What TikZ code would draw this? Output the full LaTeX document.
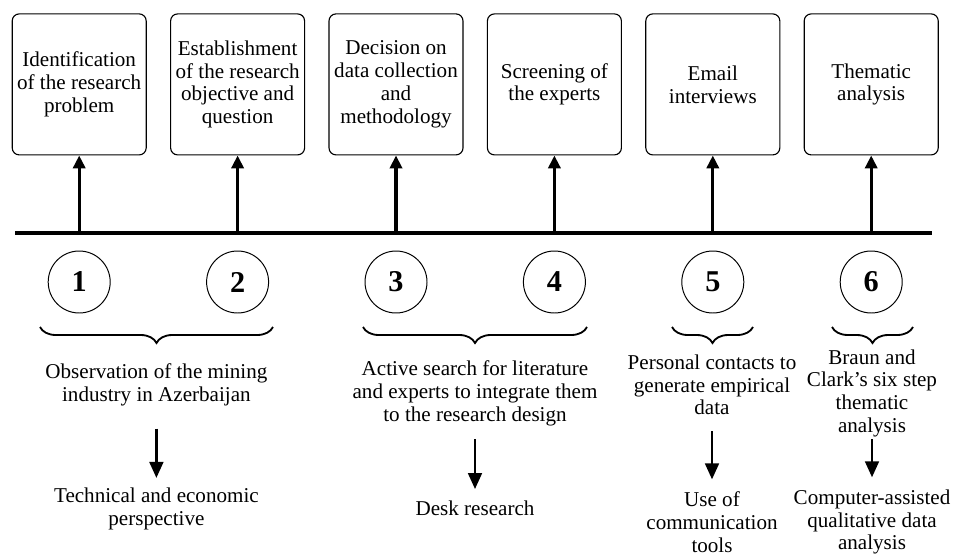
\documentclass[tikz,border=0pt]{standalone}
\usepackage{fontspec}
\setmainfont{Liberation Serif}
\usetikzlibrary{positioning,arrows.meta,decorations.pathreplacing}

\begin{document}
\begin{tikzpicture}[
    stepbox/.style={rectangle, rounded corners=5pt, draw, line width=0.8pt, minimum width=3.35cm, minimum height=3.525cm, align=center, font=\fontsize{15}{16.2}\selectfont},
    phase/.style={circle, draw, line width=0.7pt, minimum size=1.55cm, inner sep=0pt, font=\fontsize{21.5}{24}\selectfont\bfseries},
    upflow/.style={-{Triangle[length=0.32cm,width=0.3cm]}, line width=2.4pt},
    downflow/.style={-{Triangle[length=0.4cm,width=0.34cm]}, line width=2pt},
    group/.style={decorate, decoration={brace, mirror, amplitude=0.4cm}, line width=1.3pt},
    note/.style={align=center, inner sep=0pt, font=\fontsize{15}{16.2}\selectfont}
]
\useasboundingbox (0,0) rectangle (24.025,13.9);

% Research steps
\node[stepbox] (ident) at (1.98, 11.79) {Identification\\of the research\\problem};
\node[stepbox] (objective) at (5.94, 11.79) {Establishment\\of the research\\objective and\\question};
\node[stepbox] (method) at (9.90, 11.79) {Decision on\\data collection\\and\\methodology};
\node[stepbox] (screen) at (13.86, 11.79) {Screening of\\the experts};
\node[stepbox] (email) at (17.82, 11.79) {Email\\interviews};
\node[stepbox] (thematic) at (21.78, 11.79) {Thematic\\analysis};

% Timeline
\coordinate (lineL) at (0.375, 8.075);
\coordinate (lineR) at (23.3, 8.075);
\draw[line width=3.2pt] (lineL) -- (lineR);

\draw[upflow] (ident |- lineL) -- (ident);
\draw[upflow] (objective |- lineL) -- (objective);
\draw[upflow] (method |- lineL) -- (method);
\draw[upflow] (screen |- lineL) -- (screen);
\draw[upflow] (email |- lineL) -- (email);
\draw[upflow] (thematic |- lineL) -- (thematic);

% Step numbers
\node[phase] (s1) at (1.98, 6.85) {1};
\node[phase] (s2) at (5.94, 6.85) {2};
\node[phase] (s3) at (9.90, 6.85) {3};
\node[phase] (s4) at (13.86, 6.85) {4};
\node[phase] (s5) at (17.82, 6.85) {5};
\node[phase] (s6) at (21.78, 6.85) {6};

% Braces grouping the steps
\draw[group] (1.0, 5.725) -- (6.825, 5.725);
\draw[group] (9.075, 5.725) -- (14.675, 5.725);
\draw[group] (16.8, 5.725) -- (18.825, 5.725);
\draw[group] (20.8, 5.725) -- (22.825, 5.725);

% Activities
\node[note] (obs) at (3.91, 4.27) {Observation of the mining\\industry in Azerbaijan};
\node[note] (search) at (11.875, 4.07) {Active search for literature\\and experts to integrate them\\to the research design};
\node[note] (contacts) at (17.8, 4.28) {Personal contacts to\\generate empirical\\data};
\node[note] (braun) at (21.8, 4.07) {Braun and\\Clark’s six step\\thematic\\analysis};

% Outcomes
\node[note] (tech) at (3.91, 1.17) {Technical and economic\\perspective};
\node[note] (desk) at (11.875, 1.2) {Desk research};
\node[note] (tools) at (17.8, 0.85) {Use of\\communication\\tools};
\node[note] (caqda) at (21.8, 0.85) {Computer-assisted\\qualitative data\\analysis};

\draw[downflow, shorten <=0.55cm, shorten >=0.25cm] (obs) -- (tech);
\draw[downflow, shorten <=0.33cm, shorten >=0.28cm] (search) -- (desk);
\draw[downflow, shorten <=0.4cm, shorten >=0.3cm] (contacts) -- (tools);
\draw[downflow, shorten <=0.05cm, shorten >=0.3cm] (braun) -- (caqda);

\end{tikzpicture}
\end{document}
